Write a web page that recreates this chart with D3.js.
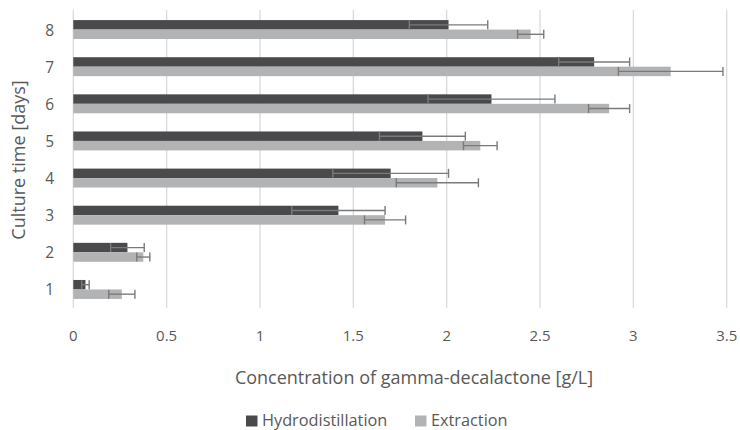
<!DOCTYPE html>
<html><head><meta charset="utf-8">
<script src="https://cdn.jsdelivr.net/npm/d3@7"></script>
<style>body{margin:0;background:#fff}svg{display:block}text{font-family:"Open Sans",sans-serif;fill:#595959}</style>
</head><body><svg id="c" width="740" height="430"></svg>
<script>
const days = ["1","2","3","4","5","6","7","8"];
const seriesNames = ["Hydrodistillation","Extraction"];
const hydro = [0.065,0.29,1.42,1.70,1.87,2.24,2.79,2.01];
const hydroErr = [0.02,0.09,0.25,0.31,0.23,0.34,0.19,0.21];
const extr = [0.26,0.375,1.67,1.95,2.18,2.87,3.20,2.45];
const extrErr = [0.07,0.035,0.11,0.22,0.09,0.11,0.28,0.07];
const xTicks = [0,0.5,1,1.5,2,2.5,3,3.5];
const colors = ["#4a4a4c","#b2b3b5"];

const svg = d3.select("#c");
const L=73.3, R=726.7, T=11, B=308;
const x = d3.scaleLinear().domain([0,3.5]).range([L,R]);
const y = d3.scaleBand().domain(days.slice().reverse()).range([T,B]).paddingInner(0.49).paddingOuter(0.245);
const sub = d3.scaleBand().domain([0,1]).range([0,y.bandwidth()]);

svg.append("g").selectAll("line").data(xTicks).join("line")
  .attr("x1",d=>x(d)).attr("x2",d=>x(d)).attr("y1",T-1).attr("y2",B)
  .attr("stroke","#d9d9d9").attr("stroke-width",1.3);

const series = [hydro, extr], errs=[hydroErr, extrErr];
series.forEach((vals,si)=>{
  const g = svg.append("g");
  g.selectAll("rect").data(days).join("rect")
    .attr("x",x(0)).attr("y",(d)=>y(d)+sub(si))
    .attr("width",(d,i)=>x(vals[i])-x(0)).attr("height",sub.bandwidth())
    .attr("fill",colors[si]);
});
series.forEach((vals,si)=>{
  const g = svg.append("g").attr("stroke","#7a7a7a").attr("stroke-width",1.4);
  days.forEach((d,i)=>{
    const cy = y(d)+sub(si)+sub.bandwidth()/2;
    const x0 = x(vals[i]-errs[si][i]), x1 = x(vals[i]+errs[si][i]);
    g.append("line").attr("x1",x0).attr("x2",x1).attr("y1",cy).attr("y2",cy);
    [x0,x1].forEach(xx=>g.append("line").attr("x1",xx).attr("x2",xx).attr("y1",cy-4.5).attr("y2",cy+4.5));
  });
});

svg.append("g").selectAll("text").data(xTicks).join("text")
  .attr("x",d=>x(d)).attr("y",341).attr("text-anchor","middle").attr("font-size",15)
  .text(d=>d);
svg.append("g").selectAll("text").data(days).join("text")
  .attr("x",54).attr("y",d=>y(d)+y.bandwidth()/2+6).attr("text-anchor","end").attr("font-size",15.5)
  .text(d=>d);

svg.append("text").attr("x",414).attr("y",384).attr("text-anchor","middle").attr("font-size",18)
  .text("Concentration of gamma-decalactone [g/L]");
svg.append("text").attr("transform","translate(25,160) rotate(-90)").attr("text-anchor","middle").attr("font-size",18)
  .text("Culture time [days]");

const lg = svg.append("g");
const lx=[246,415];
seriesNames.forEach((n,i)=>{
  lg.append("rect").attr("x",lx[i]).attr("y",415.5).attr("width",11.5).attr("height",11).attr("fill",colors[i]);
  lg.append("text").attr("x",lx[i]+16).attr("y",425.5).attr("font-size",16.3).text(n);
});
</script></body></html>
